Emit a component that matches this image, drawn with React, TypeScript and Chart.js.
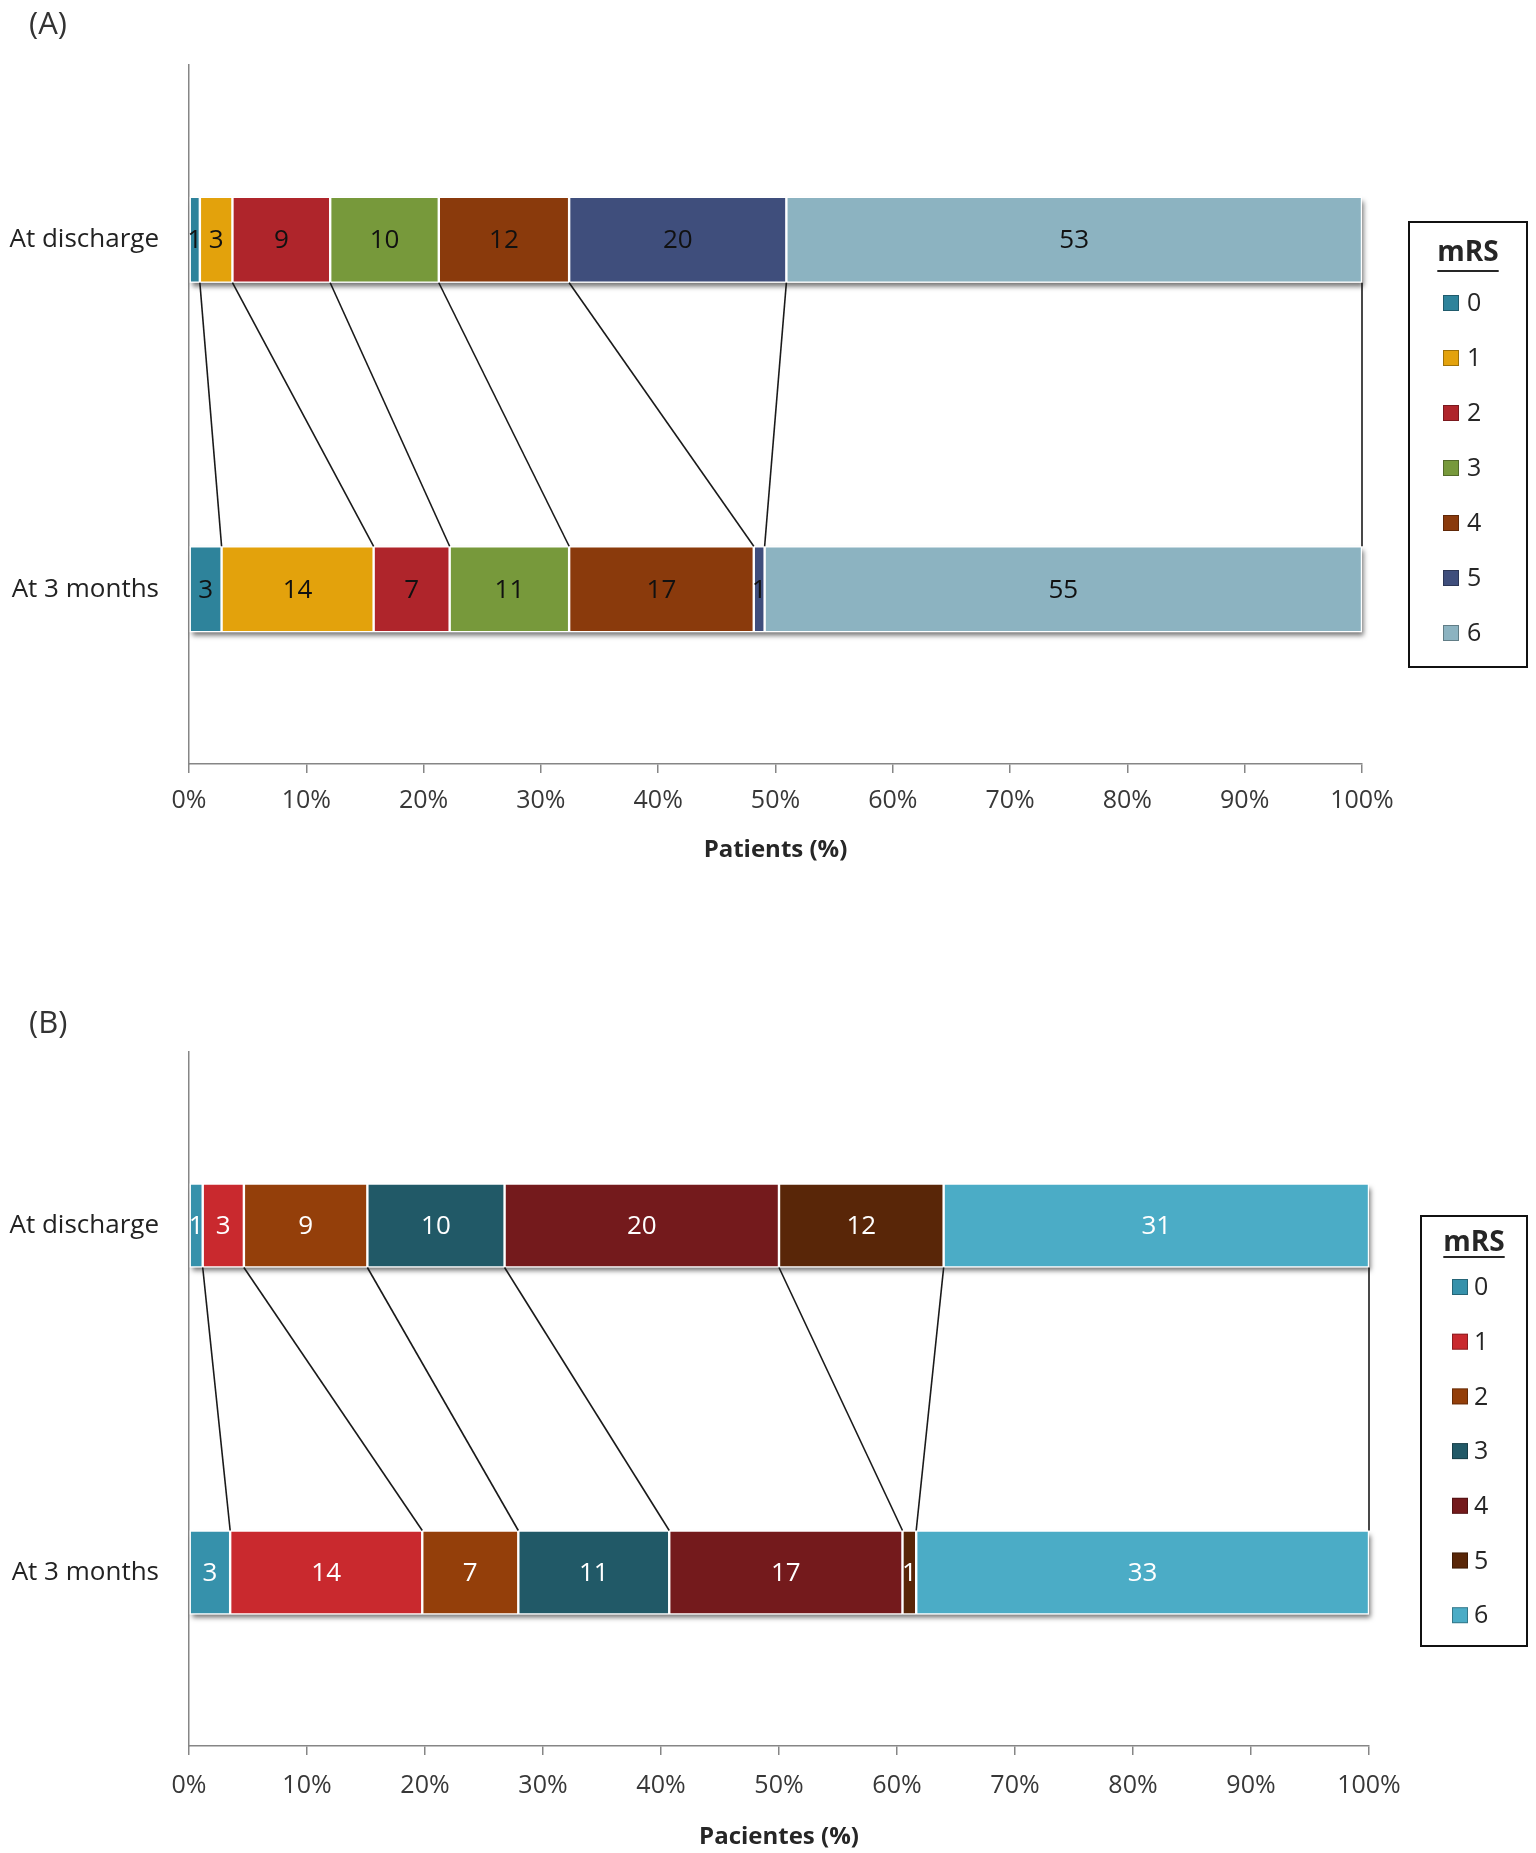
import { useEffect, useRef } from "react";
import { Chart, registerables, type Plugin } from "chart.js";

Chart.register(...registerables);
Chart.defaults.font.family = "'Open Sans', sans-serif";

const categories = ["At discharge", "At 3 months"];
const mrsLabels = ["0", "1", "2", "3", "4", "5", "6"];

// patient counts per mRS grade, panel A
const dischargeA = [1, 3, 9, 10, 12, 20, 53];
const threeMonthsA = [3, 14, 7, 11, 17, 1, 55];

// patient counts per mRS grade, panel B
const dischargeB = [1, 3, 9, 10, 20, 12, 31];
const threeMonthsB = [3, 14, 7, 11, 17, 1, 33];

const colorsA = ["#2E839B", "#E3A20C", "#AF252B", "#77993B", "#8A3A0C", "#3F4E7C", "#8CB3C1"];
const colorsB = ["#3691AB", "#C9292E", "#943F0A", "#215967", "#741A1C", "#592608", "#4BACC6"];

const xTickValues = [0, 10, 20, 30, 40, 50, 60, 70, 80, 90, 100];
const xTickLabels = ["0%", "10%", "20%", "30%", "40%", "50%", "60%", "70%", "80%", "90%", "100%"];

const toPercent = (arr: number[]) => {
  const total = arr.reduce((a, b) => a + b, 0);
  return arr.map((v) => (v / total) * 100);
};

type LegendBox = {
  x: number; y: number; w: number; h: number;
  titleY: number; underlineY: number;
  itemY: number; step: number;
  squareX: number; square: number; textX: number;
};

type PanelSpec = {
  discharge: number[];
  threeMonths: number[];
  colors: string[];
  labelColor: string;
  axisTitle: string;
  height: number;
  chartTop: number;
  chartBottom: number;
  chartRight: number;
  tickPad: number;
  titleCenter: number;
  barPct: number;
  legend: LegendBox;
};

const panelDecor: Plugin<"bar"> = {
  id: "panelDecor",
  beforeDatasetsDraw(chart) {
    // drop shadow under each whole bar
    const metas = chart.getSortedVisibleDatasetMetas();
    const first = metas[0];
    const last = metas[metas.length - 1];
    const ctx = chart.ctx;
    first.data.forEach((el: any, j: number) => {
      const endEl: any = last.data[j];
      ctx.save();
      ctx.shadowColor = "rgba(0,0,0,0.55)";
      ctx.shadowBlur = 5;
      ctx.shadowOffsetX = 2;
      ctx.shadowOffsetY = 4;
      ctx.fillStyle = "#ffffff";
      ctx.fillRect(el.base, el.y - el.height / 2, endEl.x - el.base, el.height);
      ctx.restore();
    });
  },
  afterDatasetsDraw(chart, _args, opts: any) {
    const ctx = chart.ctx;
    const metas = chart.getSortedVisibleDatasetMetas();

    // series lines between the two bars
    ctx.save();
    ctx.strokeStyle = "#1a1a1a";
    ctx.lineWidth = 1.6;
    metas.forEach((meta) => {
      const a: any = meta.data[0];
      const b: any = meta.data[1];
      ctx.beginPath();
      ctx.moveTo(a.x, a.y + a.height / 2);
      ctx.lineTo(b.x, b.y - b.height / 2);
      ctx.stroke();
    });
    ctx.restore();

    // count labels inside segments
    ctx.save();
    ctx.font = "26px 'Open Sans', sans-serif";
    ctx.fillStyle = opts.labelColor;
    ctx.textAlign = "center";
    ctx.textBaseline = "middle";
    metas.forEach((meta) => {
      const counts = (chart.data.datasets[meta.index] as any).counts as number[];
      meta.data.forEach((el: any, j: number) => {
        ctx.fillText(String(counts[j]), (el.x + el.base) / 2, el.y + 1);
      });
    });
    ctx.restore();
  },
  afterDraw(chart, _args, opts: any) {
    const L: LegendBox = opts.legend;
    const ctx = chart.ctx;
    ctx.save();
    ctx.strokeStyle = "#111";
    ctx.lineWidth = 2;
    ctx.strokeRect(L.x, L.y, L.w, L.h);

    const cx = L.x + L.w / 2;
    ctx.fillStyle = "#262626";
    ctx.font = "bold 28px 'Open Sans', sans-serif";
    ctx.textAlign = "center";
    ctx.textBaseline = "middle";
    ctx.fillText("mRS", cx, L.titleY);
    const tw = ctx.measureText("mRS").width;
    ctx.fillRect(cx - tw / 2, L.underlineY, tw, 2);

    ctx.font = "25px 'Open Sans', sans-serif";
    ctx.textAlign = "left";
    chart.data.datasets.forEach((ds: any, i: number) => {
      const cy = L.itemY + i * L.step;
      ctx.fillStyle = ds.backgroundColor;
      ctx.fillRect(L.squareX, cy - L.square / 2, L.square, L.square);
      ctx.strokeStyle = "rgba(0,0,0,0.3)";
      ctx.lineWidth = 1;
      ctx.strokeRect(L.squareX + 0.5, cy - L.square / 2 + 0.5, L.square - 1, L.square - 1);
      ctx.fillStyle = "#262626";
      ctx.fillText(ds.label, L.textX, cy + 1);
    });
    ctx.restore();
  },
};

function Panel({ spec }: { spec: PanelSpec }) {
  const canvasRef = useRef<HTMLCanvasElement>(null);

  useEffect(() => {
    if (!canvasRef.current) return;
    const d = toPercent(spec.discharge);
    const m = toPercent(spec.threeMonths);
    const titleBottom = spec.titleCenter + 14.4;

    const chart = new Chart(canvasRef.current, {
      type: "bar",
      data: {
        labels: categories,
        datasets: mrsLabels.map((lab, i) => ({
          label: lab,
          data: [d[i], m[i]],
          counts: [spec.discharge[i], spec.threeMonths[i]],
          backgroundColor: spec.colors[i],
          borderColor: "rgba(255,255,255,0.95)",
          borderWidth: 1.2,
          borderSkipped: false,
          barPercentage: spec.barPct,
          categoryPercentage: 1,
        })) as any,
      },
      options: {
        indexAxis: "y",
        responsive: false,
        animation: false,
        layout: {
          padding: {
            top: spec.chartTop,
            left: 0,
            right: 1536 - spec.chartRight,
            bottom: spec.height - titleBottom,
          },
        },
        scales: {
          x: {
            type: "linear",
            stacked: true,
            min: 0,
            max: 100,
            afterBuildTicks: (s: any) => {
              s.ticks = xTickValues.map((v) => ({ value: v }));
            },
            afterFit: (s: any) => {
              s.height = titleBottom - spec.chartBottom;
            },
            ticks: {
              autoSkip: false,
              maxRotation: 0,
              padding: spec.tickPad,
              color: "#383838",
              font: { size: 25 },
              callback: (_v: any, i: number) => xTickLabels[i],
            },
            grid: {
              drawOnChartArea: false,
              drawTicks: true,
              tickLength: 9,
              color: "#868686",
              lineWidth: 1.5,
            },
            border: { color: "#868686", width: 1.5 },
            title: {
              display: true,
              text: spec.axisTitle,
              color: "#262626",
              font: { size: 24, weight: "bold" },
              padding: 0,
            },
          },
          y: {
            type: "category",
            stacked: true,
            afterFit: (s: any) => {
              s.width = 189;
            },
            ticks: { padding: 30, color: "#222222", font: { size: 26 } },
            grid: { display: false, drawTicks: false },
            border: { color: "#868686", width: 1.5 },
          },
        },
        plugins: {
          legend: { display: false },
          tooltip: { enabled: false },
          panelDecor: { labelColor: spec.labelColor, legend: spec.legend },
        } as any,
      },
      plugins: [panelDecor],
    });

    return () => chart.destroy();
  }, [spec]);

  return <canvas ref={canvasRef} width={1536} height={spec.height} style={{ display: "block" }} />;
}

const specA: PanelSpec = {
  discharge: dischargeA,
  threeMonths: threeMonthsA,
  colors: colorsA,
  labelColor: "#111111",
  axisTitle: "Patients (%)",
  height: 926,
  chartTop: 65,
  chartBottom: 764,
  chartRight: 1362,
  tickPad: 13,
  titleCenter: 850,
  barPct: 0.246,
  legend: {
    x: 1409, y: 222, w: 118, h: 445,
    titleY: 253, underlineY: 270,
    itemY: 303, step: 55,
    squareX: 1443, square: 16, textX: 1467,
  },
};

const specB: PanelSpec = {
  discharge: dischargeB,
  threeMonths: threeMonthsB,
  colors: colorsB,
  labelColor: "#ffffff",
  axisTitle: "Pacientes (%)",
  height: 927,
  chartTop: 126,
  chartBottom: 820,
  chartRight: 1369,
  tickPad: 16,
  titleCenter: 911,
  barPct: 0.242,
  legend: {
    x: 1421, y: 290, w: 106, h: 430,
    titleY: 317, underlineY: 330,
    itemY: 361, step: 54.7,
    squareX: 1452, square: 16, textX: 1474,
  },
};

const panelLabel: React.CSSProperties = {
  position: "absolute",
  left: 29,
  fontFamily: "'Open Sans', sans-serif",
  fontSize: 31,
  lineHeight: "31px",
  color: "#333",
};

export default function App() {
  return (
    <div style={{ position: "absolute", left: 0, top: 0, width: 1536, height: 1853, background: "#fff" }}>
      <div style={{ position: "absolute", left: 0, top: 0 }}>
        <Panel spec={specA} />
      </div>
      <div style={{ position: "absolute", left: 0, top: 926 }}>
        <Panel spec={specB} />
      </div>
      <div style={{ ...panelLabel, top: 7 }}>(A)</div>
      <div style={{ ...panelLabel, top: 1006 }}>(B)</div>
    </div>
  );
}
